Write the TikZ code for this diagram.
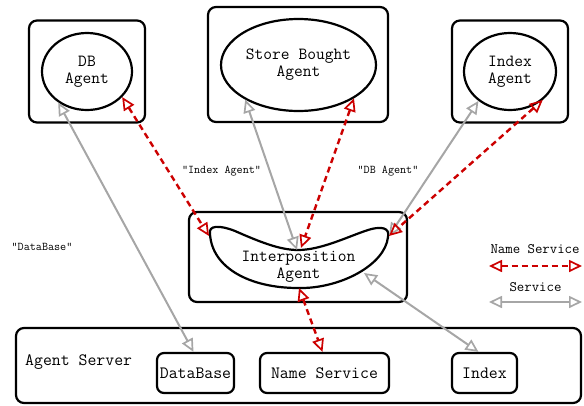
\documentclass[tikz,border=0pt]{standalone}
\usepackage{fontspec}
\usetikzlibrary{shapes.geometric,arrows.meta}
\definecolor{svcgray}{HTML}{A6A6A6}
\definecolor{nsred}{HTML}{CC0000}
\tikzset{
  tipT/.tip={Triangle[open,length=13pt,width=12pt,line width=1.7pt]},
  outerbox/.style={draw=black, line width=2.2pt, rounded corners=8pt, minimum width=#1},
  agentell/.style={draw=black, ellipse, line width=2.2pt, inner sep=0pt, align=center, font=\ttfamily\fontsize{17}{17}\selectfont},
  smallbox/.style={draw=black, line width=2.2pt, rounded corners=7pt, minimum height=40pt, inner sep=0pt, font=\ttfamily\fontsize{17.3}{17}\selectfont},
  svc/.style={draw=svcgray, line width=2pt, line join=miter, {tipT}-{tipT}},
  nsvc/.style={draw=nsred, line width=2.4pt, dash pattern=on 6pt off 4pt, line join=miter, {tipT}-{tipT}},
  lbl/.style={inner sep=0pt, font=\ttfamily\fontsize{11.8}{11.8}\selectfont},
  leglbl/.style={inner sep=0pt, font=\ttfamily\fontsize{14.4}{14.4}\selectfont}
}
\begin{document}
\begin{tikzpicture}[x=1pt,y=-1pt]
\useasboundingbox (0,0) rectangle (584,405);
% outer agent boxes
\node[outerbox=116pt, minimum height=102pt] (dbBox) at (87,71.5) {};
\node[outerbox=180pt, minimum height=115pt] (sbBox) at (298,64.5) {};
\node[outerbox=116pt, minimum height=102pt] (ixBox) at (510,71.5) {};
\node[outerbox=218pt, minimum height=90pt] (ipBox) at (298,257) {};
\node[outerbox=565pt, minimum height=75pt] (server) at (298.5,365.5) {};
% agents
\node[agentell, minimum width=90pt, minimum height=77pt] (dbA) at (87,71.5) {DB\\Agent};
\node[agentell, minimum width=155pt, minimum height=92pt] (sbA) at (298.5,65) {Store Bought\\Agent};
\node[agentell, minimum width=92pt, minimum height=77pt] (ixA) at (510,71.5) {Index\\Agent};
% interposition blob
\draw[line width=2.2pt] (210,234) .. controls (208,225) and (220,225) .. (235,231)
  .. controls (260,242) and (280,250) .. (298,250)
  .. controls (320,250) and (345,238) .. (365,231)
  .. controls (382,225) and (390,228) .. (388,237)
  .. controls (385,265) and (340,289) .. (298,288)
  .. controls (250,288) and (212,268) .. (210,234) -- cycle;
\node[inner sep=0pt, align=center, font=\ttfamily\fontsize{17}{17}\selectfont] (ipA) at (298.5,267) {Interposition\\Agent};
\coordinate (ipL) at (209,236);
\coordinate (ipT1) at (297,250);
\coordinate (ipT2) at (301,248);
\coordinate (ipR) at (389,236);
\coordinate (ipBR) at (364,273);
\coordinate (ipB) at (299,288);
% server contents
\node[inner sep=0pt, anchor=west, font=\ttfamily\fontsize{17.3}{17}\selectfont] (srvlbl) at (25,362) {Agent Server};
\node[smallbox, minimum width=77pt] (db) at (195.5,373) {DataBase};
\node[smallbox, minimum width=129pt] (ns) at (324.5,373) {Name Service};
\node[smallbox, minimum width=65pt] (idx) at (484.5,373) {Index};
% service connectors
\draw[svc] (dbA.-133.6) -- ([xshift=-2pt]db.north);
\draw[svc] (sbA.-147.8) -- (ipT1);
\draw[svc] (ixA.-137.3) -- (ipR);
\draw[svc] (ipBR) -- ([xshift=-6pt]idx.north);
% name service connectors
\draw[nsvc] (dbA.-36.9) -- (ipL);
\draw[nsvc] (sbA.-31.7) -- (ipT2);
\draw[nsvc] (ixA.-41.6) -- (ipR);
\draw[nsvc] (ipB) -- ([xshift=-2pt]ns.north);
% labels
\node[lbl] (l1) at (221.5,171) {"Index Agent"};
\node[lbl] (l2) at (388,171) {"DB Agent"};
\node[lbl] (l3) at (42,247) {"DataBase"};
% legend
\node[leglbl] (lg1) at (535,249) {Name Service};
\node[leglbl] (lg2) at (535.5,287) {Service};
\coordinate (r1) at (489,266);
\coordinate (r2) at (582,266);
\coordinate (g1) at (489,302);
\coordinate (g2) at (582,302);
\draw[nsvc] (r1) -- (r2);
\draw[svc] (g1) -- (g2);
\end{tikzpicture}
\end{document}
